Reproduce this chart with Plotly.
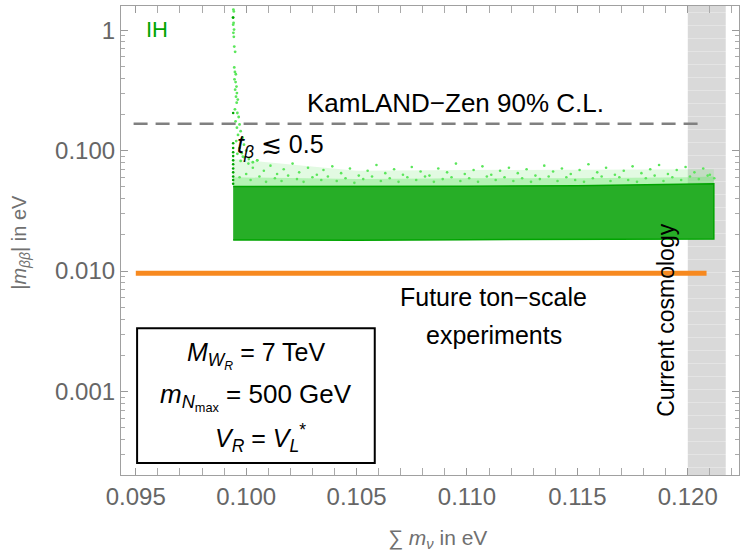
import plotly.graph_objects as go

# ranges of the frame
x_range = [0.09433, 0.12232]
y_min, y_max = 2.03e-4, 1.585

# dense |m_bb| band (dark green), edges
band_x = [0.09941, 0.1050, 0.1100, 0.1150, 0.1200, 0.12118]
band_lo = [0.0181, 0.0180, 0.0182, 0.0183, 0.0184, 0.0185]
band_hi = [0.0503, 0.0504, 0.0506, 0.0510, 0.0525, 0.0530]

# pale haze just above the band (dense part, then thin part)
haze_hi = [0.060, 0.058, 0.059, 0.059, 0.060, 0.061]
haze2_hi = [0.085, 0.068, 0.069, 0.069, 0.070, 0.070]

# sparse light green points above the band
light_x = [0.0998, 0.0999, 0.1001, 0.1003, 0.1005, 0.1008, 0.1011, 0.1014, 0.1017, 0.1021,
           0.1024, 0.1028, 0.1032, 0.1035, 0.1039, 0.1043, 0.1047, 0.1051, 0.1055, 0.1059,
           0.1063, 0.1067, 0.1071, 0.1075, 0.1079, 0.1083, 0.1087, 0.1091, 0.1095, 0.1099,
           0.1103, 0.1107, 0.1111, 0.1115, 0.1119, 0.1123, 0.1127, 0.1131, 0.1135, 0.1139,
           0.1143, 0.1147, 0.1151, 0.1155, 0.1159, 0.1163, 0.1167, 0.1171, 0.1175, 0.1179,
           0.1183, 0.1187, 0.1191, 0.1195, 0.1199, 0.1203, 0.1207, 0.1210,
           0.0997, 0.1000, 0.1002, 0.1006, 0.1009, 0.1013, 0.1016, 0.1019, 0.1023, 0.1026,
           0.1030, 0.1034, 0.1037, 0.1041, 0.1045, 0.1049, 0.1053, 0.1057, 0.1061, 0.1065,
           0.1069, 0.1073, 0.1077, 0.1081, 0.1085, 0.1089, 0.1093, 0.1097, 0.1101, 0.1105,
           0.1109, 0.1113, 0.1117, 0.1121, 0.1125, 0.1129, 0.1133, 0.1137, 0.1141, 0.1145,
           0.1149, 0.1153, 0.1157, 0.1161, 0.1165, 0.1169, 0.1173, 0.1177, 0.1181, 0.1185,
           0.1189, 0.1193, 0.1197, 0.1201, 0.1205, 0.1209, 0.1212]
light_y = [0.095, 0.088, 0.078, 0.072, 0.083, 0.068, 0.075, 0.064, 0.070, 0.078,
           0.066, 0.072, 0.063, 0.069, 0.074, 0.065, 0.071, 0.062, 0.068, 0.076,
           0.065, 0.070, 0.063, 0.073, 0.067, 0.062, 0.071, 0.066, 0.078, 0.064,
           0.069, 0.074, 0.063, 0.068, 0.072, 0.065, 0.070, 0.062, 0.075, 0.067,
           0.071, 0.064, 0.069, 0.077, 0.066, 0.072, 0.063, 0.068, 0.074, 0.065,
           0.070, 0.076, 0.064, 0.069, 0.073, 0.066, 0.071, 0.063,
           0.060, 0.064, 0.057, 0.061, 0.055, 0.059, 0.056, 0.062, 0.058, 0.055,
           0.060, 0.057, 0.061, 0.056, 0.059, 0.054, 0.058, 0.061, 0.056, 0.059,
           0.055, 0.060, 0.057, 0.061, 0.055, 0.058, 0.060, 0.056, 0.059, 0.055,
           0.061, 0.057, 0.060, 0.056, 0.059, 0.055, 0.058, 0.061, 0.056, 0.060,
           0.057, 0.055, 0.059, 0.061, 0.056, 0.060, 0.057, 0.055, 0.059, 0.062,
           0.056, 0.060, 0.057, 0.061, 0.058, 0.062, 0.059]

# points along the vertical spike at the lightest sum
spike_x = [0.09942, 0.09944, 0.09940, 0.09943, 0.09941, 0.09945, 0.09942, 0.09944, 0.09946, 0.09950,
           0.09946, 0.09949, 0.09953, 0.09947, 0.09952, 0.09956, 0.09950, 0.09958, 0.09954, 0.09962,
           0.09957, 0.09949, 0.09960, 0.09966, 0.09952, 0.09970, 0.09958, 0.09975, 0.09963, 0.09984,
           0.09955, 0.09990, 0.09970, 0.10000, 0.09960, 0.09985, 0.10012, 0.09975, 0.10030, 0.10050]
spike_y = [1.48, 1.43, 1.27, 1.15, 1.11, 1.01, 0.95, 0.88, 0.73, 0.66,
           0.49, 0.45, 0.43, 0.39, 0.37, 0.34, 0.32, 0.30, 0.28, 0.265,
           0.25, 0.22, 0.205, 0.19, 0.175, 0.165, 0.155, 0.145, 0.135, 0.128,
           0.12, 0.112, 0.105, 0.10, 0.094, 0.089, 0.085, 0.082, 0.080, 0.083]
spike_dark_x = [0.09941] * 13
spike_dark_y = [1.27, 0.205, 0.115, 0.105, 0.097, 0.090, 0.083, 0.077, 0.071, 0.066, 0.061, 0.057, 0.053]

# experimental limits
kamland = 0.167
kamland_x = [0.0949, 0.12073]
future = 0.0096
future_x = [0.0950, 0.12085]
cosmo_lo, cosmo_hi = 0.1200, 0.12172

x_ticks = [0.095, 0.100, 0.105, 0.110, 0.115, 0.120]
x_labels = ["0.095", "0.100", "0.105", "0.110", "0.115", "0.120"]
y_ticks = [0.001, 0.01, 0.1, 1]
y_labels = ["0.001", "0.010", "0.100", "1"]
y_minor = [m * 10 ** e for e in (-4, -3, -2, -1, 0) for m in range(2, 10)]

dark = "#00a400"
light = "#5be65b"
font = "Liberation Sans"
y_log_range = [-3.6925, 0.2]

fig = go.Figure()

# cosmology band with faint horizontal hatching
fig.add_trace(go.Bar(x=[(cosmo_lo + cosmo_hi) / 2], width=[cosmo_hi - cosmo_lo],
                     base=[y_min], y=[y_max * 1.2 - y_min],
                     marker=dict(color="#d9d9d9", line=dict(width=0),
                                 pattern=dict(shape="-", size=13, solidity=0.08,
                                              fgcolor="#f0f0f0", bgcolor="#d9d9d9")),
                     hoverinfo="skip"))

# pale haze
fig.add_trace(go.Scatter(x=band_x + band_x[::-1], y=band_hi + haze2_hi[::-1],
                         fill="toself", fillcolor="rgba(95,228,95,0.18)",
                         line=dict(width=0), mode="lines", hoverinfo="skip"))
fig.add_trace(go.Scatter(x=band_x + band_x[::-1], y=band_hi + haze_hi[::-1],
                         fill="toself", fillcolor="rgba(95,228,95,0.35)",
                         line=dict(width=0), mode="lines", hoverinfo="skip"))

fig.add_trace(go.Scatter(x=light_x, y=light_y, mode="markers",
                         marker=dict(color=light, size=2.6, line=dict(width=0))))
fig.add_trace(go.Scatter(x=spike_x, y=spike_y, mode="markers",
                         marker=dict(color=light, size=2.8, line=dict(width=0))))

# dense band
fig.add_trace(go.Scatter(x=band_x + band_x[::-1], y=band_lo + band_hi[::-1],
                         fill="toself", fillcolor="#27ae27",
                         line=dict(width=1.5, color=dark), mode="lines", hoverinfo="skip"))
fig.add_trace(go.Scatter(x=spike_dark_x, y=spike_dark_y, mode="markers",
                         marker=dict(color=dark, size=2.6, line=dict(width=0))))

# KamLAND-Zen limit
fig.add_trace(go.Scatter(x=kamland_x, y=[kamland, kamland], mode="lines",
                         line=dict(color="#808080", width=2.5, dash="14px,8px")))
# future sensitivity, put on the twin axis (same range) which carries the minor ticks
fig.add_trace(go.Scatter(x=future_x, y=[future, future], mode="lines", yaxis="y2",
                         line=dict(color="#f7891f", width=5)))

axis_common = dict(showline=True, linecolor="#a0a0a0", linewidth=1.2, mirror="allticks",
                   ticks="inside", ticklen=7, tickcolor="#999999", showgrid=False,
                   zeroline=False, automargin=False,
                   tickfont=dict(family=font, size=24, color="#666666"))

fig.update_xaxes(range=x_range, tickmode="array", tickvals=x_ticks, ticktext=x_labels,
                 minor=dict(ticks="inside", ticklen=4, tickcolor="#aaaaaa",
                            tick0=0.095, dtick=0.001, showgrid=False),
                 **axis_common)
fig.update_yaxes(type="log", range=y_log_range, tickmode="array", tickvals=y_ticks,
                 ticktext=y_labels, **axis_common)

fig.update_layout(width=747, height=554, showlegend=False, barmode="overlay",
                  plot_bgcolor="white", paper_bgcolor="white",
                  margin=dict(l=121, r=8, t=6, b=79, autoexpand=False),
                  font=dict(family=font, color="black"),
                  yaxis2=dict(type="log", range=y_log_range, overlaying="y", side="left",
                              anchor="x", tickmode="array", tickvals=y_minor,
                              showticklabels=False, ticks="inside", ticklen=4,
                              tickcolor="#aaaaaa", mirror="allticks", showline=False,
                              showgrid=False, zeroline=False, automargin=False))

# box with parameters
fig.add_shape(type="rect", xref="paper", yref="paper",
              x0=(137.3 - 121.2) / 618.1, x1=(375 - 121.2) / 618.1,
              y0=(474.6 - 462.7) / 468.2, y1=(474.6 - 328) / 468.2,
              line=dict(color="black", width=2), fillcolor="white")


def note(text, px, py, size=25, color="black", angle=0):
    fig.add_annotation(text=text, xref="paper", yref="paper",
                       x=(px - 121.2) / 618.1, y=(474.6 - py) / 468.2,
                       xanchor="center", yanchor="middle",
                       showarrow=False, textangle=angle,
                       font=dict(family=font, size=size, color=color))


note("IH", 157, 30, size=22, color=dark)
note("KamLAND\u2212Zen 90% C.L.", 456, 103, size=26)
note("<i>t</i><sub><i>\u03b2</i></sub> \u2272 0.5", 281, 146)
note("Future ton\u2212scale", 494, 297)
note("experiments", 494, 335)
note("Current cosmology", 666, 320, size=23, angle=-90)
note("<i>M</i><sub><i>W</i><sub><i>R</i></sub></sub> = 7 TeV", 257, 355, size=25)
note("<i>m</i><sub><i>N</i><sub>max</sub></sub> = 500 GeV", 256, 397, size=26)
note("<i>V</i><sub><i>R</i></sub> = <i>V</i><sub><i>L</i></sub><sup>*</sup>", 261, 438, size=25)
note("|<i>m</i><sub><i>\u03b2\u03b2</i></sub>| in eV", 20, 242, size=20, color="#707070", angle=-90)
note("\u2211 <i>m</i><sub><i>\u03bd</i></sub> in eV", 438, 538, size=21, color="#707070")

# the page body has a default margin; drop it so the figure sits at the corner
fig.write_html("out.html", config={"displayModeBar": False},
               post_script="document.body.style.margin='0px';")
